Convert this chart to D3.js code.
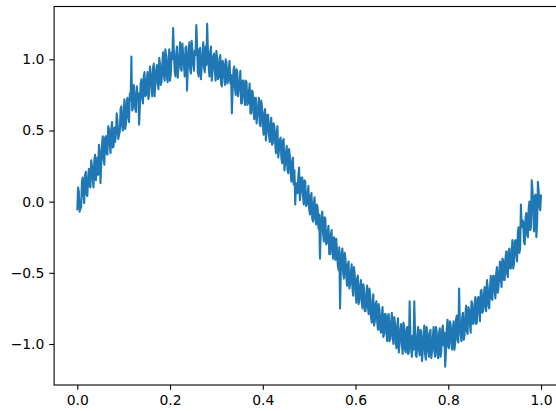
<!DOCTYPE html>
<html>
<head>
<meta charset="utf-8">
<script src="https://cdn.jsdelivr.net/npm/d3@7"></script>
<style>
  html, body { margin: 0; padding: 0; background: #fff; }
  svg { display: block; }
  text { font-family: "DejaVu Sans", sans-serif; }
</style>
</head>
<body>
<div id="chart"></div>
<script>
// ---- data ----
const ySeries = [
  -0.06,0.10, 0.07,-0.07, -0.05,-0.04, 0.14,0.17, 0.05,-0.01, 0.18,0.21, 0.05,0.04, 0.17,0.23, 0.11,0.10, 0.29,0.25,
  0.16,0.10, 0.29,0.33, 0.15,0.20, 0.31,0.19, 0.40,0.35, 0.13,0.27, 0.40,0.46, 0.30,0.26, 0.45,0.46, 0.34,0.33,
  0.53,0.51, 0.40,0.34, 0.51,0.56, 0.38,0.39, 0.52,0.42, 0.48,0.62, 0.57,0.44, 0.47,0.49, 0.65,0.67, 0.53,0.50,
  0.62,0.72, 0.51,0.55, 0.70,0.73, 0.59,0.56, 0.76,0.71, 1.02,0.64, 0.66,0.82, 0.76,0.65, 0.63,0.81, 0.75,0.76,
  0.54,0.67, 0.83,0.86, 0.73,0.69, 0.88,0.91, 0.74,0.75, 0.86,0.91, 0.72,0.75, 0.95,0.90, 0.82,0.74, 0.94,0.97,
  0.74,0.83, 0.92,0.96, 0.83,0.79, 1.01,0.97, 0.82,0.84, 0.96,1.05, 0.89,0.85, 1.07,1.02, 0.87,0.84, 1.00,1.07,
  0.85,0.90, 1.05,1.00, 1.22,1.05, 0.92,0.88, 1.04,1.09, 0.87,0.95, 1.02,1.12, 0.93,0.92, 1.11,1.03, 0.96,0.88,
  1.08,1.09, 0.78,0.94, 1.05,1.12, 0.93,0.90, 1.13,1.06, 0.96,0.92, 1.06,1.03, 1.24,1.10, 0.91,0.88, 1.07,1.08,
  0.86,0.95, 1.03,1.12, 0.94,0.91, 1.09,0.96, 1.25,1.07, 0.95,0.88, 1.05,1.09, 0.85,0.92, 1.02,1.04, 0.92,0.85,
  1.06,1.01, 0.86,0.87, 0.99,1.03, 0.83,0.81, 0.99,0.97, 0.88,0.82, 1.00,0.98, 0.83,0.85, 0.93,0.99, 0.83,0.89,
  0.62,0.78, 0.92,0.95, 0.80,0.75, 0.93,0.91, 0.74,0.79, 0.84,0.92, 0.69,0.69, 0.85,0.85, 0.74,0.68, 0.85,0.84,
  0.68,0.69, 0.77,0.83, 0.62,0.62, 0.78,0.77, 0.64,0.58, 0.73,0.73, 0.55,0.61, 0.67,0.73, 0.55,0.53, 0.71,0.67,
  0.55,0.47, 0.62,0.65, 0.43,0.49, 0.61,0.61, 0.47,0.42, 0.54,0.59, 0.40,0.41, 0.55,0.53, 0.42,0.34, 0.49,0.53,
  0.31,0.36, 0.43,0.45, 0.31,0.27, 0.43,0.44, 0.22,0.26, 0.34,0.39, 0.22,0.20, 0.37,0.32, 0.21,0.14, 0.28,0.31,
  0.12,0.22, -0.02,0.13, 0.12,0.06, 0.18,0.24, 0.01,0.06, 0.17,0.17, 0.05,-0.02, 0.15,0.14, -0.03,-0.02, 0.06,0.11,
  -0.05,-0.09, 0.04,0.06, -0.12,-0.14, -0.01,0.03, -0.12,-0.16, -0.02,-0.04, -0.19,-0.09, -0.40,-0.22, -0.10,-0.07, -0.22,-0.28,
  -0.11,-0.12, -0.30,-0.29, -0.21,-0.17, -0.37,-0.37, -0.23,-0.20, -0.35,-0.40, -0.25,-0.27, -0.41,-0.26, -0.34,-0.44, -0.48,-0.32,
  -0.75,-0.49, -0.36,-0.33, -0.50,-0.54, -0.36,-0.40, -0.52,-0.59, -0.44,-0.42, -0.61,-0.58, -0.50,-0.44, -0.61,-0.66, -0.46,-0.52,
  -0.62,-0.71, -0.54,-0.52, -0.72,-0.69, -0.59,-0.55, -0.70,-0.75, -0.58,-0.61, -0.77,-0.77, -0.66,-0.59, -0.74,-0.79, -0.61,-0.66,
  -0.81,-0.85, -0.71,-0.65, -0.87,-0.84, -0.72,-0.70, -0.84,-0.90, -0.72,-0.76, -0.90,-0.92, -0.80,-0.74, -0.95,-0.93, -0.79,-0.79,
  -0.92,-0.98, -0.80,-0.79, -0.98,-0.96, -0.85,-0.78, -0.95,-1.00, -0.81,-0.85, -0.99,-1.03, -0.87,-0.82, -1.06,-1.00, -0.90,-0.86,
  -1.00,-1.07, -0.85,-0.88, -1.04,-1.06, -0.90,-0.88, -1.07,-1.06, -0.70,-0.93, -1.04,-1.09, -0.94,-1.04, -0.70,-0.91, -1.08,-1.09,
  -0.94,-0.88, -1.04,-1.08, -0.90,-0.91, -1.12,-1.05, -0.95,-0.87, -1.07,-1.11, -0.88,-0.93, -1.05,-1.09, -0.92,-0.90, -1.10,-1.05,
  -0.96,-0.88, -1.05,-1.09, -0.88,-0.91, -1.07,-1.10, -0.93,-0.89, -1.09,-1.05, -0.90,-0.87, -1.01,-0.92, -1.16,-1.05, -0.90,-0.83,
  -1.02,-1.03, -0.84,-0.86, -0.99,-1.04, -0.89,-0.84, -1.04,-0.99, -0.83,-0.80, -0.97,-0.99, -0.61,-0.85, -0.93,-0.98, -0.81,-0.78,
  -0.97,-0.94, -0.81,-0.73, -0.91,-0.93, -0.74,-0.76, -0.86,-0.92, -0.70,-0.71, -0.86,-0.85, -0.74,-0.67, -0.86,-0.85, -0.68,-0.67,
  -0.77,-0.84, -0.63,-0.62, -0.78,-0.77, -0.65,-0.60, -0.74,-0.77, -0.55,-0.60, -0.73,-0.75, -0.60,-0.52, -0.68,-0.69, -0.52,-0.52,
  -0.63,-0.68, -0.50,-0.46, -0.64,-0.60, -0.49,-0.42, -0.55,-0.60, -0.40,-0.41, -0.55,-0.55, -0.40,-0.35, -0.50,-0.53, -0.35,-0.33,
  -0.47,-0.47, -0.35,-0.27, -0.47,-0.44, -0.28,-0.27, -0.37,-0.42, -0.22,-0.18, -0.36,-0.33, -0.02,-0.18, -0.13,-0.14, -0.28,-0.30,
  -0.11,-0.08, -0.23,-0.25, -0.05,0.00, -0.20,-0.18, 0.15,0.08, -0.07,-0.21, 0.04,0.05, -0.25,-0.15, 0.14,0.07, -0.04,-0.06,
  0.05
];
const xStart = 0, xEnd = 1;           // x runs evenly from 0 to 1
const xTicks = [0, 0.2, 0.4, 0.6, 0.8, 1.0];
const xTickLabels = ["0.0", "0.2", "0.4", "0.6", "0.8", "1.0"];
const yTicks = [-1.0, -0.5, 0.0, 0.5, 1.0];
const yTickLabels = ["\u22121.0", "\u22120.5", "0.0", "0.5", "1.0"];

// ---- layout ----
const W = 556, H = 411;
const mLeft = 54.1, mRight = 564.2, mTop = 6.5, mBottom = 385;
const lineColor = "#1f77b4";

const n = ySeries.length;
const points = ySeries.map((v, i) => ({ x: xStart + (xEnd - xStart) * i / (n - 1), y: v }));

const x = d3.scaleLinear().domain([-0.05, 1.05]).range([mLeft, mRight]);
const y = d3.scaleLinear().domain([-1.2880, 1.3710]).range([mBottom, mTop]);

const svg = d3.select("#chart").append("svg")
  .attr("width", W).attr("height", H);

svg.append("rect").attr("width", W).attr("height", H).attr("fill", "#fff");

svg.append("defs").append("clipPath").attr("id", "clip")
  .append("rect").attr("x", mLeft).attr("y", mTop)
  .attr("width", mRight - mLeft).attr("height", mBottom - mTop);

const line = d3.line().x(d => x(d.x)).y(d => y(d.y));
svg.append("path")
  .datum(points)
  .attr("clip-path", "url(#clip)")
  .attr("fill", "none")
  .attr("stroke", lineColor)
  .attr("stroke-width", 2.08)
  .attr("stroke-linejoin", "round")
  .attr("stroke-linecap", "butt")
  .attr("d", line);

// axes
const fontSize = 13.9;
const xAxis = d3.axisBottom(x).tickValues(xTicks)
  .tickFormat((d, i) => xTickLabels[i]).tickSize(4.86).tickPadding(4.86);
const yAxis = d3.axisLeft(y).tickValues(yTicks)
  .tickFormat((d, i) => yTickLabels[i]).tickSize(4.86).tickPadding(4.86);

const gx = svg.append("g").attr("transform", `translate(0,${mBottom})`).call(xAxis);
const gy = svg.append("g").attr("transform", `translate(${mLeft},0)`).call(yAxis);
[gx, gy].forEach(g => {
  g.select(".domain").remove();
  g.selectAll(".tick line").attr("stroke", "#000").attr("stroke-width", 1.1);
  g.selectAll(".tick text").attr("fill", "#000")
    .style("font-family", "'DejaVu Sans', sans-serif").style("font-size", fontSize + "px");
});
gx.selectAll(".tick text").attr("dy", "0.76em");

// spines
svg.append("rect")
  .attr("x", mLeft).attr("y", mTop)
  .attr("width", mRight - mLeft).attr("height", mBottom - mTop)
  .attr("fill", "none").attr("stroke", "#000").attr("stroke-width", 1.1);
</script>
</body>
</html>
